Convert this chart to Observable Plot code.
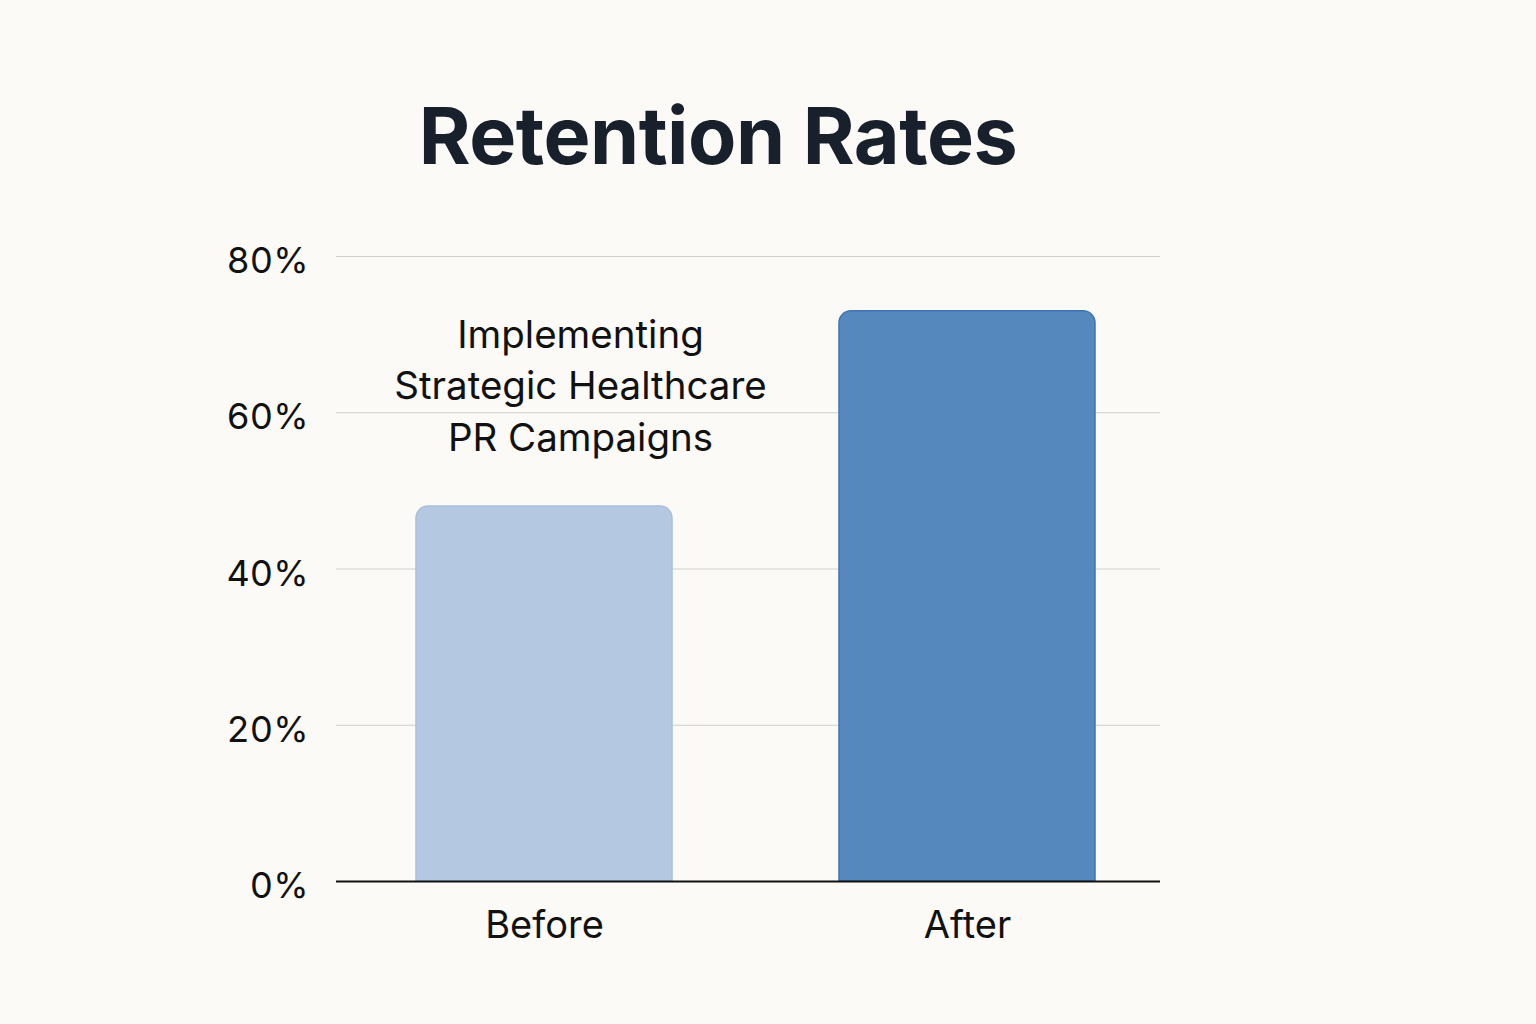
<!DOCTYPE html>
<html>
<head>
<meta charset="utf-8">
<script src="https://cdn.jsdelivr.net/npm/d3@7"></script>
<script src="https://cdn.jsdelivr.net/npm/@observablehq/plot@0.6"></script>
<style>
  html, body { margin: 0; padding: 0; background: #fbfaf6; }
  body { width: 1536px; height: 1024px; overflow: hidden; font-family: Inter, Roboto, "Noto Sans", sans-serif; }
  #title { height: 220px; box-sizing: border-box; padding-top: 96px; width: 1436px; text-align: center; font-size: 79px; font-weight: 700; color: #18202b; line-height: 1; letter-spacing: -0.5px; }
  #chart svg { display: block; }
</style>
</head>
<body>
<div id="title">Retention Rates</div>
<div id="chart"></div>
<script>
const categories = ["Before", "After"];
const values = [48, 73];
const fills = ["#b4c8e2", "#5589be"];
const strokes = ["#a8bedc", "#3f74b4"];
const yTicks = [0, 20, 40, 60, 80];
const yTickLabels = ["0%", "20%", "40%", "60%", "80%"];
const annotationLines = ["Implementing", "Strategic Healthcare", "PR Campaigns"];
const annotationCategory = "Before";
const annotationValue = 63.8;

const data = categories.map((c, i) => ({category: c, value: values[i], fill: fills[i], stroke: strokes[i]}));

const chart = Plot.plot({
  width: 1536,
  height: 804,
  marginTop: 36,
  marginBottom: 143,
  marginLeft: 336,
  marginRight: 376,
  style: {background: "transparent", fontFamily: "Inter, Roboto, sans-serif", color: "#111"},
  x: {domain: categories, paddingInner: 0.395, paddingOuter: 0.17, align: 0.55, label: null},
  y: {domain: [0, 80], label: null},
  marks: [
    Plot.ruleY(yTicks.filter(d => d > 0), {stroke: "#cfcfcf", strokeWidth: 1.2}),
    Plot.barY(data, {x: "category", y: "value", fill: "fill", stroke: "stroke", strokeWidth: 1.5, ry1: 12}),
    Plot.ruleY([0], {stroke: "#111", strokeWidth: 2}),
    Plot.axisY({ticks: yTicks, tickFormat: (d) => yTickLabels[yTicks.indexOf(d)], tickSize: 0, tickPadding: 28, dy: 5, fontSize: 36, label: null}),
    Plot.axisX({tickSize: 0, tickPadding: 30, fontSize: 38, label: null}),
    Plot.text([annotationLines.join("\n")], {x: () => annotationCategory, y: () => annotationValue, dx: 36, fontSize: 38.5, lineHeight: 1.33, fill: "#111", textAnchor: "middle"})
  ]
});
document.getElementById("chart").append(chart);
</script>
</body>
</html>
